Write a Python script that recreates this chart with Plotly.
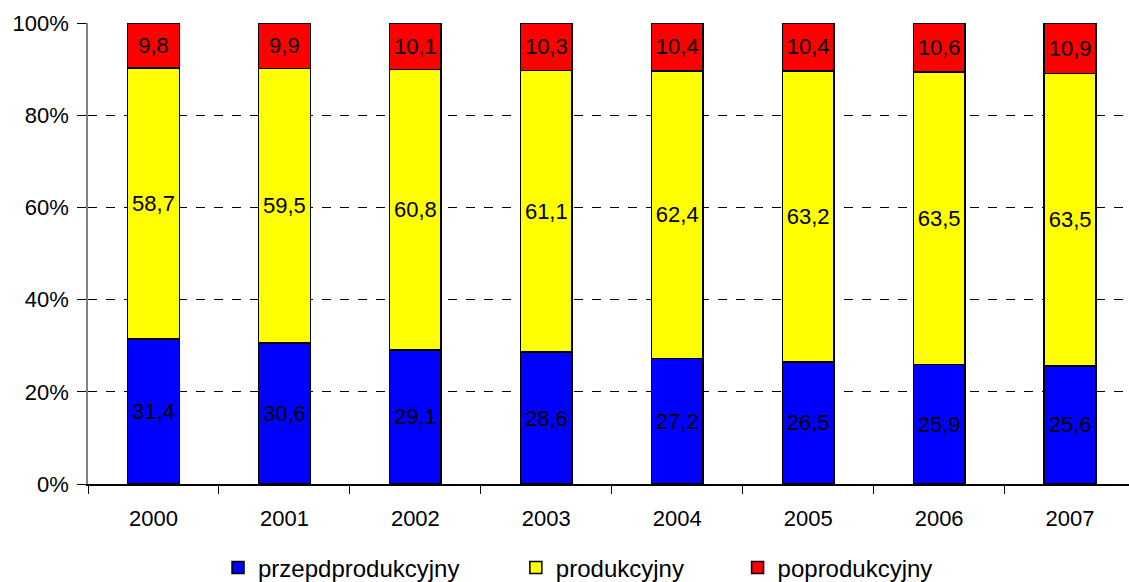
import plotly.graph_objects as go

years = ["2000", "2001", "2002", "2003", "2004", "2005", "2006", "2007"]
przedprod = [31.4, 30.6, 29.1, 28.6, 27.2, 26.5, 25.9, 25.6]
prod = [58.7, 59.5, 60.8, 61.1, 62.4, 63.2, 63.5, 63.5]
poprod = [9.8, 9.9, 10.1, 10.3, 10.4, 10.4, 10.6, 10.9]
series_names = ["przepdprodukcyjny", "produkcyjny", "poprodukcyjny"]
colors = ["#0000FF", "#FFFF00", "#FF0000"]
ytick_vals = [0, 20, 40, 60, 80, 100]
ytick_text = ["0%", "20%", "40%", "60%", "80%", "100%"]

def fmt(v):
    return ("%.1f" % v).replace(".", ",")

legend_ids = ["legend", "legend2", "legend3"]
legend_x = [0.1249, 0.411, 0.624]

fig = go.Figure()
for name, vals, col, lg in zip(series_names, [przedprod, prod, poprod], colors, legend_ids):
    fig.add_trace(go.Bar(
        x=years, y=vals, name=name, legend=lg,
        marker=dict(color=col, line=dict(color="black", width=1.5)),
        text=[fmt(v) for v in vals], textposition="inside",
        insidetextanchor="middle",
        textfont=dict(family="Liberation Sans, Arial", size=22, color="black"),
        width=0.395,
    ))

legend_style = dict(orientation="h", xanchor="left", y=-0.182, yanchor="middle",
                    font=dict(size=24), bgcolor="rgba(0,0,0,0)")

fig.update_layout(
    barmode="stack", barnorm="percent",
    width=1129, height=582,
    margin=dict(l=88, r=0, t=23, b=98, autoexpand=False),
    paper_bgcolor="white", plot_bgcolor="white",
    font=dict(family="Liberation Sans, Arial", size=22, color="black"),
    uniformtext=dict(minsize=22, mode="show"),
    showlegend=True,
    legend=dict(x=legend_x[0], **legend_style),
    legend2=dict(x=legend_x[1], **legend_style),
    legend3=dict(x=legend_x[2], **legend_style),
    xaxis=dict(type="category", range=[-0.5, 7.45], tickson="boundaries",
               ticks="outside", ticklen=8, tickcolor="black",
               showline=True, linecolor="black", linewidth=1.5,
               showgrid=False, ticklabelstandoff=14, automargin=False),
    yaxis=dict(range=[0, 100], tickvals=ytick_vals, ticktext=ytick_text,
               ticks="outside", ticklen=9, tickcolor="black",
               showline=True, linecolor="gray", linewidth=1.5,
               showgrid=True, gridcolor="black", griddash="dash", gridwidth=1,
               zeroline=False, ticklabelstandoff=4, automargin=False),
)
fig.write_html("out.html", config={"displayModeBar": False},
               post_script="document.body.style.margin='0';document.body.style.overflow='hidden';")
